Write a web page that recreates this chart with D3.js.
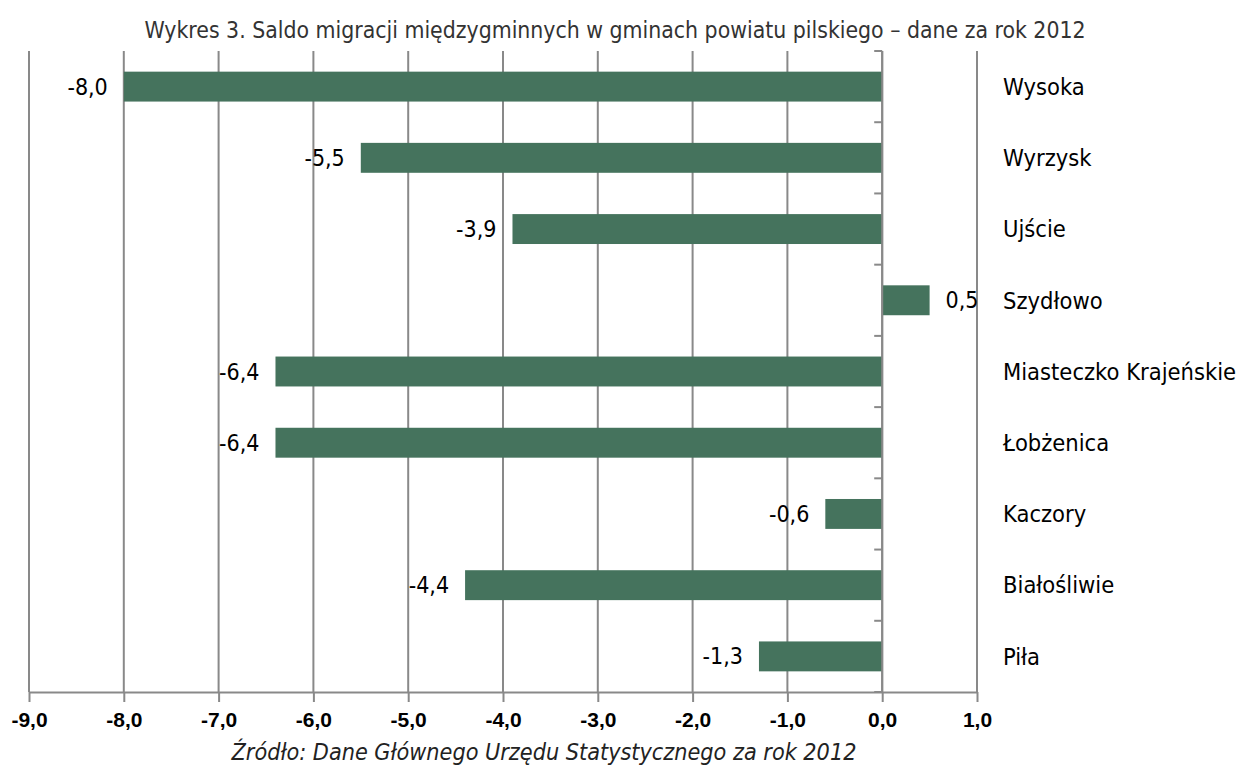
<!DOCTYPE html>
<html><head><meta charset="utf-8">
<script src="https://cdn.jsdelivr.net/npm/d3@7/dist/d3.min.js"></script>
<style>body{margin:0;background:#fff}svg{display:block}</style>
</head><body>
<svg id="c" width="1243" height="778"></svg>
<script>
const categories = ["Wysoka","Wyrzysk","Ujście","Szydłowo","Miasteczko Krajeńskie","Łobżenica","Kaczory","Białośliwie","Piła"];
const values = [-8.0,-5.5,-3.9,0.5,-6.4,-6.4,-0.6,-4.4,-1.3];
const xTicks = [-9,-8,-7,-6,-5,-4,-3,-2,-1,0,1];
const title = "Wykres 3. Saldo migracji międzygminnych w gminach powiatu pilskiego – dane za rok 2012";
const source = "Źródło: Dane Głównego Urzędu Statystycznego  za rok 2012";

const svg = d3.select("#c");
const fmt = v => v.toFixed(1).replace(".", ",");
const x = d3.scaleLinear().domain([-9, 1]).range([29, 977]);
const y = d3.scaleBand().domain(categories).range([51, 692]).paddingInner(0.58).paddingOuter(0.29);
const yb = d3.scaleBand().domain(categories).range([51, 692]);
const grid = "#898989";
const textFont = "'DejaVu Sans Condensed', 'DejaVu Sans', sans-serif";

svg.append("g").selectAll("line").data(xTicks).join("line")
  .attr("x1", d => x(d)).attr("x2", d => x(d))
  .attr("y1", 51).attr("y2", 692)
  .attr("stroke", grid).attr("stroke-width", 2);

const xa = svg.append("g").attr("transform", "translate(0,692)")
  .call(d3.axisBottom(x).tickValues(xTicks).tickSize(10).tickSizeOuter(0).tickFormat(fmt).tickPadding(10));
xa.select(".domain").attr("stroke", grid).attr("stroke-width", 2);
xa.selectAll(".tick line").attr("stroke", grid).attr("stroke-width", 2);
xa.selectAll(".tick text").attr("fill", "#000")
  .attr("font-family", "'Liberation Sans', Arial, sans-serif").attr("font-size", 21).attr("font-weight", "bold");

svg.append("g").selectAll("rect").data(values).join("rect")
  .attr("x", d => x(Math.min(0, d)))
  .attr("width", d => Math.abs(x(d) - x(0)))
  .attr("y", (d, i) => y(categories[i]))
  .attr("height", y.bandwidth())
  .attr("fill", "#45735d");

const ya = svg.append("g").attr("transform", `translate(${x(0)},0)`);
ya.append("line").attr("x1", 0).attr("x2", 0).attr("y1", 51).attr("y2", 692)
  .attr("stroke", grid).attr("stroke-width", 2);
const bounds = categories.map(c => yb(c)).concat([692]);
ya.selectAll("line.t").data(bounds).join("line").attr("class", "t")
  .attr("x1", -8).attr("x2", 0).attr("y1", d => d).attr("y2", d => d)
  .attr("stroke", grid).attr("stroke-width", 2);

svg.append("g").selectAll("text").data(values).join("text")
  .attr("x", d => d < 0 ? x(d) - 16 : x(d) + 16)
  .attr("y", (d, i) => y(categories[i]) + y.bandwidth() / 2)
  .attr("dy", "0.35em")
  .attr("text-anchor", d => d < 0 ? "end" : "start")
  .attr("font-family", textFont).attr("font-size", 23).attr("fill", "#000")
  .text(fmt);

svg.append("g").selectAll("text").data(categories).join("text")
  .attr("x", 1003)
  .attr("y", d => yb(d) + yb.bandwidth() / 2)
  .attr("dy", "0.35em")
  .attr("font-family", textFont).attr("font-size", 23.5).attr("fill", "#000")
  .text(d => d);

svg.append("text").attr("x", 615).attr("y", 38).attr("text-anchor", "middle")
  .attr("font-family", textFont).attr("font-size", 22.8).attr("fill", "#333")
  .text(title);

svg.append("text").attr("x", 544).attr("y", 760).attr("text-anchor", "middle")
  .attr("font-family", textFont).attr("font-size", 23.2).attr("font-style", "italic").attr("fill", "#222")
  .text(source);
</script>
</body></html>
